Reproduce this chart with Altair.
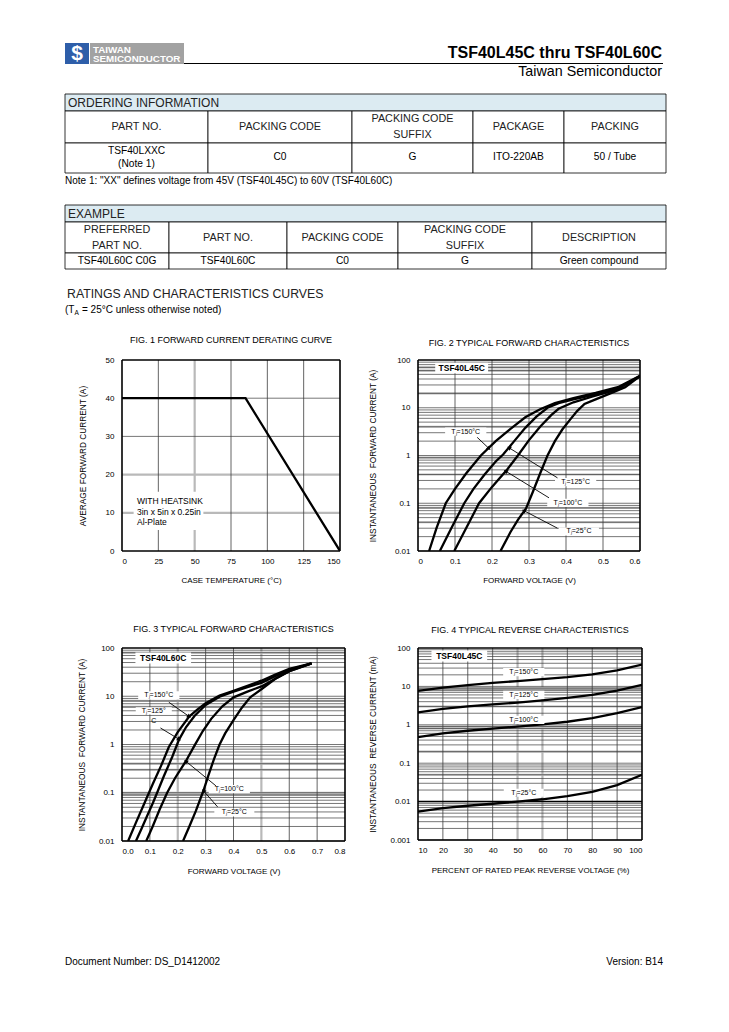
import math
import altair as alt
import pandas as pd

FONT = "Liberation Sans"

# ------------------------------------------------------------------ page text
HEADER_TITLE = "TSF40L45C thru TSF40L60C"
HEADER_SUB = "Taiwan Semiconductor"
LOGO_LINES = ["TAIWAN", "SEMICONDUCTOR"]

ORDER_TITLE = "ORDERING INFORMATION"
ORDER_COLS = [64, 207, 351, 472, 563, 665]
ORDER_ROWS = [94, 111, 143, 173]
ORDER_HEAD = ["PART NO.", "PACKING CODE", "PACKING CODE\nSUFFIX", "PACKAGE", "PACKING"]
ORDER_DATA = ["TSF40LXXC\n(Note 1)", "C0", "G", "ITO-220AB", "50 / Tube"]
ORDER_NOTE = 'Note 1: "XX" defines voltage from 45V (TSF40L45C) to 60V (TSF40L60C)'

EX_TITLE = "EXAMPLE"
EX_COLS = [64, 168, 286, 397, 531, 665]
EX_ROWS = [205, 222, 253, 269]
EX_HEAD = ["PREFERRED\nPART NO.", "PART NO.", "PACKING CODE", "PACKING CODE\nSUFFIX", "DESCRIPTION"]
EX_DATA = ["TSF40L60C C0G", "TSF40L60C", "C0", "G", "Green compound"]

SECTION_TITLE = "RATINGS AND CHARACTERISTICS CURVES"
SECTION_NOTE = ["(T", "A", "= 25°C unless otherwise noted)"]
FOOT_LEFT = "Document Number: DS_D1412002"
FOOT_RIGHT = "Version: B14"

# ------------------------------------------------------------------ figure data
# Fig 1 derating curve
F1_T = [0, 85, 150]
F1_I = [40, 40, 0]
F1_NOTE = ["WITH HEATSINK", "3in x 5in x 0.25in", "Al-Plate"]
F1_NOTE_Y = [13.1, 10.2, 7.5]

# Fig 2 TSF40L45C forward characteristics (V, A)
F2_150_V = [0.03, 0.05, 0.075, 0.10, 0.13, 0.17, 0.21, 0.25, 0.29, 0.33, 0.37, 0.42, 0.48, 0.54, 0.60]
F2_150_I = [0.01, 0.03, 0.1, 0.2, 0.42, 1.0, 2.0, 3.6, 6.3, 9.3, 12.5, 16, 20.5, 27, 47]
F2_125_V = [0.059, 0.09, 0.125, 0.15, 0.18, 0.21, 0.23, 0.26, 0.29, 0.32, 0.35, 0.38, 0.42, 0.48, 0.54, 0.60]
F2_125_I = [0.01, 0.03, 0.1, 0.2, 0.4, 0.75, 1.05, 2.0, 3.8, 6.5, 10, 12.5, 15, 19, 25, 46]
F2_100_V = [0.098, 0.13, 0.165, 0.2, 0.241, 0.27, 0.30, 0.33, 0.36, 0.38, 0.42, 0.47, 0.53, 0.60]
F2_100_I = [0.01, 0.03, 0.1, 0.22, 0.51, 1.0, 2.1, 4.0, 7.0, 9.5, 13, 17, 23, 45]
F2_25_V = [0.223, 0.25, 0.27, 0.292, 0.31, 0.33, 0.35, 0.37, 0.39, 0.41, 0.43, 0.45, 0.48, 0.52, 0.56, 0.60]
F2_25_I = [0.01, 0.025, 0.045, 0.078, 0.17, 0.42, 1.0, 2.0, 3.5, 5.5, 8.5, 12, 15, 20, 27, 46]

# Fig 3 TSF40L60C forward characteristics (V, A)
F3_150_V = [0.022, 0.05, 0.08, 0.11, 0.14, 0.168, 0.2, 0.241, 0.27, 0.30, 0.35, 0.40, 0.45, 0.5, 0.55, 0.6, 0.68]
F3_150_I = [0.01, 0.024, 0.06, 0.15, 0.36, 0.89, 1.8, 3.8, 5.3, 7.2, 10.3, 13, 16.5, 21, 28, 37, 48]
F3_125_V = [0.05, 0.07, 0.09, 0.11, 0.126, 0.15, 0.18, 0.205, 0.23, 0.26, 0.30, 0.35, 0.40, 0.45, 0.5, 0.55, 0.6, 0.68]
F3_125_I = [0.01, 0.018, 0.033, 0.06, 0.1, 0.22, 0.55, 1.28, 2.3, 3.9, 6.6, 9.8, 12.5, 15.5, 19, 26, 35, 48]
F3_100_V = [0.087, 0.11, 0.135, 0.162, 0.19, 0.229, 0.26, 0.29, 0.32, 0.36, 0.40, 0.45, 0.5, 0.55, 0.6, 0.68]
F3_100_I = [0.01, 0.02, 0.045, 0.1, 0.2, 0.45, 0.95, 1.9, 3.4, 6.2, 9.5, 12.5, 16, 23, 33, 48]
F3_25_V = [0.219, 0.24, 0.265, 0.292, 0.31, 0.33, 0.35, 0.37, 0.40, 0.43, 0.46, 0.5, 0.55, 0.6, 0.68]
F3_25_I = [0.01, 0.019, 0.042, 0.11, 0.23, 0.5, 1.0, 1.7, 3.2, 5.8, 9.5, 14, 23, 33, 48]

# Fig 4 TSF40L45C reverse characteristics (% of VRRM, mA)
F4_PCT = [10, 20, 30, 40, 50, 60, 70, 80, 90, 100]
F4_150 = [7.6, 9.3, 10.8, 12.3, 13.8, 15.5, 17.5, 20.5, 26, 37]
F4_125 = [2.1, 2.6, 3.0, 3.4, 3.8, 4.3, 5.0, 6.0, 7.8, 11]
F4_100 = [0.48, 0.6, 0.7, 0.8, 0.9, 1.02, 1.2, 1.5, 2.0, 2.9]
F4_25 = [0.0055, 0.0068, 0.0078, 0.0088, 0.01, 0.0115, 0.0138, 0.018, 0.027, 0.05]

LOG_MULT = [1, 2, 3, 4, 5, 6, 7, 8, 9]

TJ = "T\u2c7c="
DARK = "#3c3c3c"
GRAY = "#b9b9b9"
BOX = "M-1,-0.2L1,-0.2L1,0.2L-1,0.2Z"

# ------------------------------------------------------------------ page cell (pixel coordinates)
X0, Y0, TLW, TLH = 121, 50, 217, 212
XS = alt.Scale(domain=[X0, X0 + TLW], nice=False, zero=False)
YS = alt.Scale(domain=[Y0, Y0 + TLH], nice=False, zero=False, reverse=True)


def px(f):
    return alt.X(f, scale=XS, axis=None)


def py(f):
    return alt.Y(f, scale=YS, axis=None)


def text_layer(rows, xs=XS, ys=YS, lh=12, **mk):
    # y of a multi-line text is the centre of the block; shift to the first line
    fixed = [(x, y - (t.count("\n")) * lh / 2, t, s, c) for x, y, t, s, c in rows]
    df = pd.DataFrame(fixed, columns=["x", "y", "t", "s", "c"])
    return alt.Chart(df).mark_text(font=FONT, baseline="middle", lineBreak="\n", lineHeight=lh, **mk).encode(
        x=alt.X("x:Q", scale=xs, axis=None), y=alt.Y("y:Q", scale=ys, axis=None),
        text="t:N", size=alt.Size("s:Q", scale=None), color=alt.Color("c:N", scale=None))


def table_cells(cols, rows):
    cells = [dict(x1=cols[0], x2=cols[-1], y1=rows[0], y2=rows[1], f="#dcebf2")]
    for r in range(1, len(rows) - 1):
        for c in range(len(cols) - 1):
            cells.append(dict(x1=cols[c], x2=cols[c + 1], y1=rows[r], y2=rows[r + 1], f="white"))
    return cells


def mids(v):
    return [(a + b) / 2 for a, b in zip(v[:-1], v[1:])]


logo_rects = pd.DataFrame([
    dict(x1=64, x2=88, y1=43, y2=64, f="#2e5ea9"),
    dict(x1=89, x2=183, y1=43, y2=64, f="#a2a2a2"),
])
logo = alt.Chart(logo_rects).mark_rect(strokeWidth=0).encode(
    x=px("x1:Q"), x2="x2:Q", y=py("y1:Q"), y2="y2:Q", fill=alt.Fill("f:N", scale=None))

cells = pd.DataFrame(table_cells(ORDER_COLS, ORDER_ROWS) + table_cells(EX_COLS, EX_ROWS))
tables = alt.Chart(cells).mark_rect(stroke="black", strokeWidth=0.8).encode(
    x=px("x1:Q"), x2="x2:Q", y=py("y1:Q"), y2="y2:Q", fill=alt.Fill("f:N", scale=None))

hline = alt.Chart(pd.DataFrame([dict(x1=183, x2=662, y=63.5)])).mark_rule(color="black", strokeWidth=1).encode(
    x=px("x1:Q"), x2="x2:Q", y=py("y:Q"))

left_txt = text_layer([
    (67, 102.5, ORDER_TITLE, 12, "#222222"),
    (64, 181, ORDER_NOTE, 10, "black"),
    (67, 213.5, EX_TITLE, 12, "#222222"),
    (66, 294, SECTION_TITLE, 12.3, "#222222"),
    (64, 310, SECTION_NOTE[0], 10, "black"),
    (73.5, 312.5, SECTION_NOTE[1], 6.5, "black"),
    (81, 310, SECTION_NOTE[2], 10, "black"),
], align="left")

head_rows = [(x, (ORDER_ROWS[1] + ORDER_ROWS[2]) / 2, t, 10.8, "#222222") for x, t in zip(mids(ORDER_COLS), ORDER_HEAD)]
head_rows += [(x, (EX_ROWS[1] + EX_ROWS[2]) / 2, t, 10.8, "#222222") for x, t in zip(mids(EX_COLS), EX_HEAD)]
head_txt = text_layer(head_rows, lh=16, align="center")

data_rows = [(x, (ORDER_ROWS[2] + ORDER_ROWS[3]) / 2 - 1, t, 10.2, "black") for x, t in zip(mids(ORDER_COLS), ORDER_DATA)]
data_rows += [(x, (EX_ROWS[2] + EX_ROWS[3]) / 2, t, 10.2, "black") for x, t in zip(mids(EX_COLS), EX_DATA)]
data_txt = text_layer(data_rows, lh=13, align="center")

title_txt = text_layer([(661, 52.5, HEADER_TITLE, 16, "black")], align="right", fontWeight="bold")
sub_txt = text_layer([(661, 72, HEADER_SUB, 14.3, "black")], align="right")
logo_txt = text_layer([(92, 49.5, LOGO_LINES[0], 9.8, "white"), (92, 58.5, LOGO_LINES[1], 9.8, "white")],
                      align="left", fontWeight="bold")
logo_sym = text_layer([(76, 54, "$", 21, "white")], align="center", fontWeight="bold")

TL = alt.layer(logo, hline, tables, left_txt, head_txt, data_txt, title_txt, sub_txt, logo_txt, logo_sym).properties(
    width=TLW, height=TLH)

TR = alt.Chart(pd.DataFrame({"a": [0.5]})).mark_point(opacity=0).encode(
    x=alt.X("a:Q", axis=None, scale=alt.Scale(domain=[0, 1])),
    y=alt.Y("a:Q", axis=None, scale=alt.Scale(domain=[0, 1]))).properties(width=100, height=213)

FY0, FH = 938, 30
FYS = alt.Scale(domain=[FY0, FY0 + FH], nice=False, zero=False, reverse=True)
FOOT = alt.layer(
    text_layer([(64, 962, FOOT_LEFT, 10, "black")], ys=FYS, align="left"),
    text_layer([(662, 962, FOOT_RIGHT, 10, "black")], ys=FYS, align="right"),
).properties(width=TLW, height=FH)


# ------------------------------------------------------------------ figures
def pix(v, dom, size, log):
    if log:
        return (math.log10(v) - math.log10(dom[0])) / (math.log10(dom[1]) - math.log10(dom[0])) * size
    return (v - dom[0]) / (dom[1] - dom[0]) * size


def fig_chart(w, h, xdom, xvals, xfmt, xtitle, xtpad, ydom, ylog, yvals, yfmt, ytitle, ytpad,
              dark_v, gray_v, dark_h, gray_h, series, labels=(), part=None, arrows=(), thick_h=()):
    xs = alt.Scale(domain=xdom, nice=False, zero=False)
    if ylog:
        ys = alt.Scale(type="log", domain=ydom, nice=False)
    else:
        ys = alt.Scale(domain=ydom, nice=False, zero=False)
    xax = alt.Axis(values=xvals, format=xfmt, title=xtitle, titlePadding=xtpad, titleFontSize=8, labelPadding=6)
    yax = alt.Axis(values=yvals, format=yfmt, title=ytitle, titlePadding=ytpad, titleFontSize=8.3, labelPadding=8)

    def X(f):
        return alt.X(f, scale=xs, axis=xax)

    def Y(f):
        return alt.Y(f, scale=ys, axis=yax)

    layers = []

    def vr(vals, color, sw):
        if vals:
            layers.append(alt.Chart(pd.DataFrame({"v": list(vals)})).mark_rule(color=color, strokeWidth=sw).encode(x=X("v:Q")))

    def hr(vals, color, sw):
        if vals:
            layers.append(alt.Chart(pd.DataFrame({"v": list(vals)})).mark_rule(color=color, strokeWidth=sw).encode(y=Y("v:Q")))

    hr(gray_h, GRAY, 2.2)
    vr(gray_v, GRAY, 2.2)
    hr(dark_h, DARK, 0.7)
    vr(dark_v, DARK, 0.8)
    hr(thick_h, "black", 1.5)
    vr(xdom, "black", 1.6)
    hr(ydom, "black", 1.6)

    rows = []
    for name, xv, yv in series:
        for a, b in zip(xv, yv):
            rows.append(dict(x=a, y=b, s=name))
    layers.append(alt.Chart(pd.DataFrame(rows)).mark_line(color="black", strokeWidth=2.3, clip=True).encode(
        x=X("x:Q"), y=Y("y:Q"), detail="s:N"))

    if part is not None:
        pdf = pd.DataFrame([dict(x=part[0], y=part[1], t=part[2], bs=part[3])])
        layers.append(alt.Chart(pdf).mark_point(shape=BOX, filled=True, color="white", opacity=1, strokeWidth=0).encode(
            x=X("x:Q"), y=Y("y:Q"), size=alt.Size("bs:Q", scale=None)))
        layers.append(alt.Chart(pdf).mark_text(font=FONT, fontSize=8.5, fontWeight="bold", baseline="middle").encode(
            x=X("x:Q"), y=Y("y:Q"), text="t:N"))
    if labels:
        ldf = pd.DataFrame([dict(x=a, y=b, t=c, bs=d) for a, b, c, d in labels])
        layers.append(alt.Chart(ldf).mark_point(shape=BOX, filled=True, color="white", opacity=1, strokeWidth=0).encode(
            x=X("x:Q"), y=Y("y:Q"), size=alt.Size("bs:Q", scale=None)))
        layers.append(alt.Chart(ldf).mark_text(font=FONT, fontSize=7, baseline="middle", lineBreak="\n", lineHeight=10).encode(
            x=X("x:Q"), y=Y("y:Q"), text="t:N"))
    if arrows:
        arows = []
        for x1, y1, x2, y2 in arrows:
            dx = pix(x2, xdom, w, False) - pix(x1, xdom, w, False)
            dy = -(pix(y2, ydom, h, ylog) - pix(y1, ydom, h, ylog))
            ang = math.degrees(math.atan2(dx, -dy)) % 360
            arows.append(dict(x=x1, y=y1, x2=x2, y2=y2, ang=ang))
        adf = pd.DataFrame(arows)
        layers.append(alt.Chart(adf).mark_rule(color="black", strokeWidth=0.9).encode(
            x=X("x:Q"), y=Y("y:Q"), x2="x2:Q", y2="y2:Q"))
        layers.append(alt.Chart(adf).mark_point(shape="triangle-up", filled=True, color="black", opacity=1, size=22).encode(
            x=X("x2:Q"), y=Y("y2:Q"), angle=alt.Angle("ang:Q", scale=None)))
    return layers, X, Y


def finish(layers, title, toff, w, h):
    return alt.layer(*layers).properties(
        width=w, height=h,
        title=alt.TitleParams(title, offset=toff, fontSize=9, font=FONT, fontWeight="normal",
                              anchor="middle", frame="group", color="black"))


# ---- Fig 1
W1, H1 = 218, 191
l1, X1, Y1 = fig_chart(
    W1, H1, [0, 150], [0, 25, 50, 75, 100, 125, 150], "d", "CASE TEMPERATURE (°C)", 11,
    [0, 50], False, [0, 10, 20, 30, 40, 50], "d", "AVERAGE FORWARD CURRENT (A)", 18,
    [25, 75, 100, 125], [50], [30, 40], [10, 20],
    [("derate", F1_T, F1_I)])
l1.insert(-1, alt.Chart(pd.DataFrame([dict(x1=8, x2=56, y1=5.5, y2=15.5)])).mark_rect(color="white").encode(
    x=X1("x1:Q"), x2="x2:Q", y=Y1("y1:Q"), y2="y2:Q"))
l1.append(alt.Chart(pd.DataFrame({"x": [10.3] * 3, "y": F1_NOTE_Y, "t": F1_NOTE})).mark_text(
    font=FONT, fontSize=8.5, align="left", baseline="middle").encode(x=X1("x:Q"), y=Y1("y:Q"), text="t:N"))
F1 = finish(l1, "FIG. 1 FORWARD CURRENT DERATING CURVE", 11, W1, H1)

# ---- Fig 2
F2_DEC = [0.01, 0.1, 1, 10]
W2, H2 = 222, 191
l2, _, _ = fig_chart(
    W2, H2, [0, 0.6], [0, 0.1, 0.2, 0.3, 0.4, 0.5, 0.6], "~g", "FORWARD VOLTAGE (V)", 11,
    [0.01, 100], True, [0.01, 0.1, 1, 10, 100], "~g", "INSTANTANEOUS\u00a0 FORWARD CURRENT (A)", 17,
    [0.1, 0.2, 0.3, 0.4, 0.5], [], [m * d for d in F2_DEC for m in LOG_MULT],
    [70, 60, 20, 4, 0.9, 0.4, 0.08, 0.04],
    [("150", F2_150_V, F2_150_I), ("125", F2_125_V, F2_125_I), ("100", F2_100_V, F2_100_I), ("25", F2_25_V, F2_25_I)],
    labels=[(0.129, 3.16, TJ + "150°C", 1700), (0.426, 0.278, TJ + "125°C", 1700),
            (0.405, 0.1016, TJ + "100°C", 1700), (0.435, 0.0257, TJ + "25°C", 1600)],
    part=(0.118, 68, "TSF40L45C", 2800),
    arrows=[(0.16, 2.4, 0.192, 1.4), (0.377, 0.34, 0.246, 1.45), (0.354, 0.13, 0.237, 0.47), (0.377, 0.03, 0.286, 0.07)])
F2 = finish(l2, "FIG. 2 TYPICAL FORWARD CHARACTERISTICS", 8, W2, H2)

# ---- Fig 3
W3, H3 = 223, 193
l3, _, _ = fig_chart(
    W3, H3, [0, 0.8], [0, 0.1, 0.2, 0.3, 0.4, 0.5, 0.6, 0.7, 0.8], ".1f", "FORWARD VOLTAGE (V)", 12,
    [0.01, 100], True, [0.01, 0.1, 1, 10, 100], "~g", "INSTANTANEOUS\u00a0 FORWARD CURRENT (A)", 12,
    [0.1, 0.3, 0.4, 0.6, 0.7], [0.2, 0.5], [m * d for d in F2_DEC for m in LOG_MULT],
    [80, 8, 6, 0.4, 0.3, 0.1, 0.09],
    [("150", F3_150_V, F3_150_I), ("125", F3_125_V, F3_125_I), ("100", F3_100_V, F3_100_I), ("25", F3_25_V, F3_25_I)],
    labels=[(0.132, 10.4, TJ + "150°C", 1700), (0.114, 5.0, TJ + "125°\nC", 1300),
            (0.385, 0.119, TJ + "100°C", 1700), (0.403, 0.039, TJ + "25°C", 1600)],
    part=(0.148, 62, "TSF40L60C", 3100),
    arrows=[(0.168, 7.5, 0.241, 3.8), (0.138, 2.2, 0.205, 1.28), (0.337, 0.139, 0.229, 0.45), (0.343, 0.051, 0.292, 0.11)])
F3 = finish(l3, "FIG. 3 TYPICAL FORWARD CHARACTERISTICS", 10, W3, H3)

# ---- Fig 4
F4_DEC = [0.001, 0.01, 0.1, 1, 10]
W4, H4 = 224, 192
l4, _, _ = fig_chart(
    W4, H4, [10, 100], [10, 20, 30, 40, 50, 60, 70, 80, 90, 100], "d", "PERCENT OF RATED PEAK REVERSE VOLTAGE (%)", 12,
    [0.001, 100], True, [0.001, 0.01, 0.1, 1, 10, 100], "~g", "INSTANTANEOUS\u00a0 REVERSE CURRENT (mA)", 12,
    [20, 30, 40, 70, 80, 90], [50, 60], [m * d for d in F4_DEC for m in LOG_MULT],
    [9, 8, 3, 0.9, 0.8, 0.2, 0.05],
    [("150", F4_PCT, F4_150), ("125", F4_PCT, F4_125), ("100", F4_PCT, F4_100), ("25", F4_PCT, F4_25)],
    labels=[(52.5, 23.5, TJ + "150°C", 1700), (52.5, 6.0, TJ + "125°C", 1700),
            (52.5, 1.35, TJ + "100°C", 1700), (52.5, 0.017, TJ + "25°C", 1600)],
    part=(26.6, 62, "TSF40L45C", 3100),
    thick_h=[0.01])
F4 = finish(l4, "FIG. 4 TYPICAL REVERSE CHARACTERISTICS", 9, W4, H4)

chart = alt.concat(
    TL, TR, F1, F2, F3, F4, FOOT,
    columns=2, spacing={"row": 97, "column": 73}, bounds="flush", align="none",
).properties(
    padding={"left": 56, "top": 34, "right": 8, "bottom": 8}
).configure_view(stroke="transparent").configure_axis(
    labelFont=FONT, titleFont=FONT, labelFontSize=8, titleFontSize=8, titleFontWeight="normal",
    labelColor="black", titleColor="black", ticks=False, tickSize=0, domain=False, grid=False, labelPadding=6,
)

chart.save("out.html", embed_options={"renderer": "svg", "actions": False})
